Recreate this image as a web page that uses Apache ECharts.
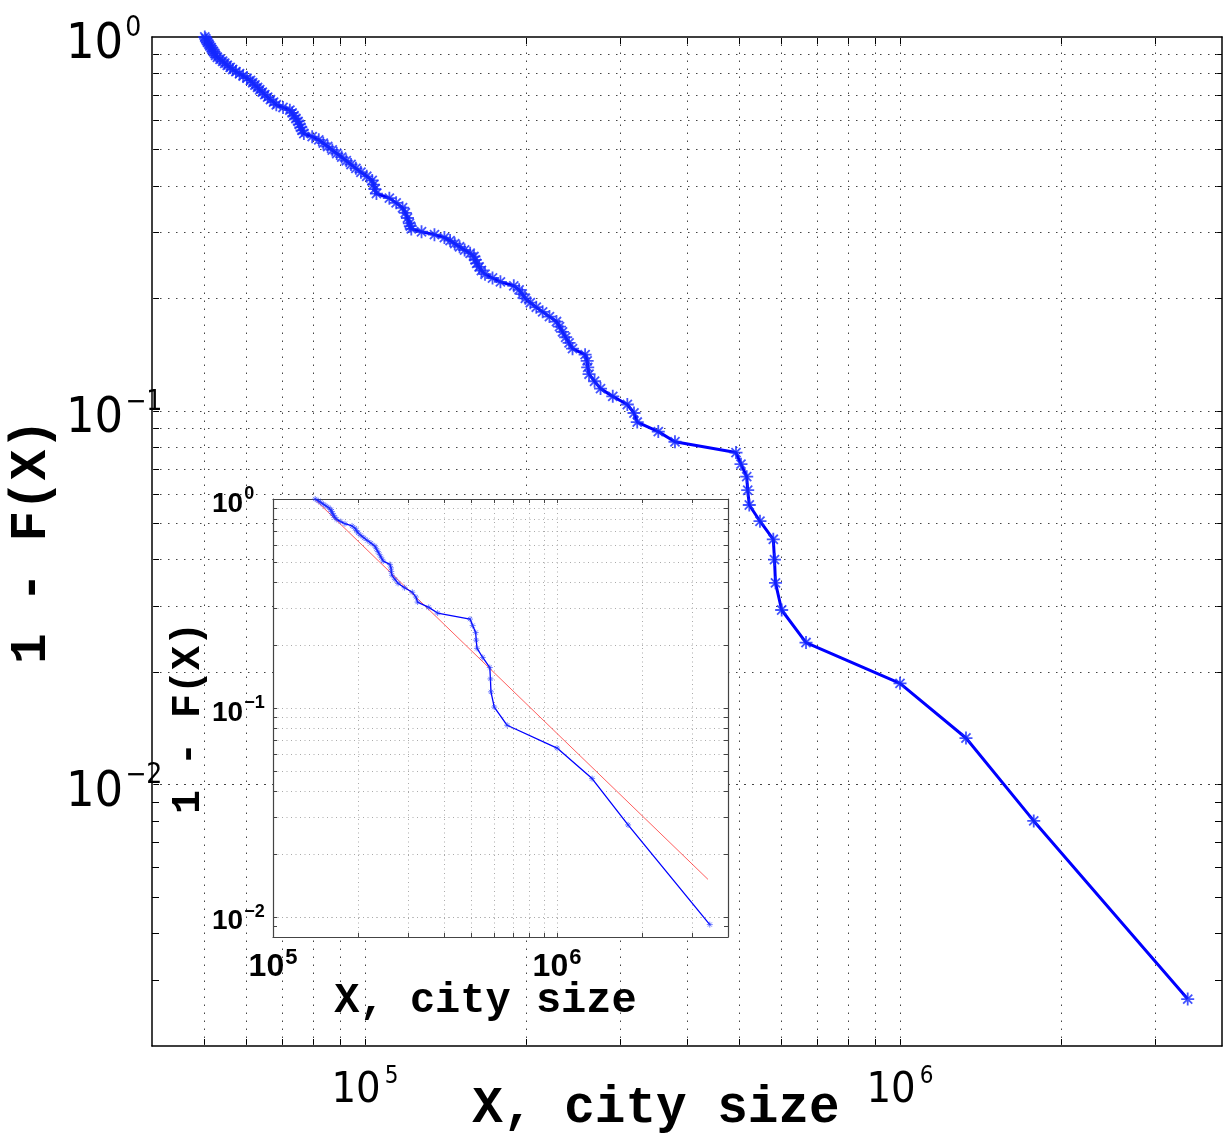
<!DOCTYPE html>
<html>
<head>
<meta charset="utf-8">
<script src="https://cdn.jsdelivr.net/npm/echarts@6.0.0/dist/echarts.min.js"></script>
<style>
html, body { margin: 0; padding: 0; background: #fff; }
#chart { width: 1231px; height: 1133px; }
</style>
</head>
<body>
<div id="chart"></div>
<script>
// city sizes, largest first (rank 1..60, then every 2nd rank up to 188)
const citySize = [
  3451000, 1779000, 1329000, 1000400, 667600, 601200, 585400, 582900, 579900, 547600,
  523000, 519400, 517200, 504600, 493900, 379800, 353500, 322900, 318400, 309400,
  290600, 275700, 268700, 262400, 260900, 260300, 258000, 244400, 240800, 237300,
  234100, 231100, 228100, 221300, 214900, 209100, 203800, 199500, 196800, 194200,
  189800, 179200, 173200, 167700, 165100, 163500, 161800, 160800, 159900, 157300,
  153600, 150300, 147200, 144300, 140800, 134900, 127600, 122100, 121600, 121100,
  120100, 119000, 117600, 114400, 111100, 105100, 104400, 103800, 103200, 100800,
  98300, 96200, 94200, 92300, 90500, 88600, 86900, 85200, 83600, 82000,
  79700, 76900, 76300, 75900, 75400, 75000, 74300, 73700, 73100, 72400,
  70300, 68300, 67500, 66600, 65800, 65000, 64300, 63600, 63000, 62300,
  61700, 61100, 60200, 59200, 58300, 57400, 56600, 56000, 55300, 54700,
  54200, 53600, 53000, 52600, 52400, 52100, 51800, 51600, 51300, 51100,
  50800, 50600, 50400, 50200
];

// 1 - F(X), main plot
const mainTail = [
  0.00267, 0.008, 0.01333, 0.01867, 0.024, 0.02933, 0.03467, 0.04, 0.04533, 0.05067,
  0.056, 0.06133, 0.06667, 0.072, 0.07733, 0.08267, 0.088, 0.09333, 0.09867, 0.104,
  0.10933, 0.11467, 0.12, 0.12533, 0.13067, 0.136, 0.14133, 0.14667, 0.152, 0.15733,
  0.16267, 0.168, 0.17333, 0.17867, 0.184, 0.18933, 0.19467, 0.2, 0.20533, 0.21067,
  0.216, 0.22133, 0.22667, 0.232, 0.23733, 0.24267, 0.248, 0.25333, 0.25867, 0.264,
  0.26933, 0.27467, 0.28, 0.28533, 0.29067, 0.296, 0.30133, 0.30667, 0.312, 0.31733,
  0.328, 0.33867, 0.34933, 0.36, 0.37067, 0.38133, 0.392, 0.40267, 0.41333, 0.424,
  0.43467, 0.44533, 0.456, 0.46667, 0.47733, 0.488, 0.49867, 0.50933, 0.52, 0.53067,
  0.54133, 0.552, 0.56267, 0.57333, 0.584, 0.59467, 0.60533, 0.616, 0.62667, 0.63733,
  0.648, 0.65867, 0.66933, 0.68, 0.69067, 0.70133, 0.712, 0.72267, 0.73333, 0.744,
  0.75467, 0.76533, 0.776, 0.78667, 0.79733, 0.808, 0.81867, 0.82933, 0.84, 0.85067,
  0.86133, 0.872, 0.88267, 0.89333, 0.904, 0.91467, 0.92533, 0.936, 0.94667, 0.95733,
  0.968, 0.97867, 0.98933, 1
];

// 1 - F(X), inset (55 largest cities)
const insetTail = [
  0.009174, 0.02752, 0.04587, 0.06422, 0.08257, 0.1009, 0.1193, 0.1376, 0.156, 0.1743,
  0.1927, 0.211, 0.2294, 0.2477, 0.2661, 0.2844, 0.3028, 0.3211, 0.3394, 0.3578,
  0.3761, 0.3945, 0.4128, 0.4312, 0.4495, 0.4679, 0.4862, 0.5046, 0.5229, 0.5413,
  0.5596, 0.578, 0.5963, 0.6147, 0.633, 0.6514, 0.6697, 0.6881, 0.7064, 0.7248,
  0.7431, 0.7615, 0.7798, 0.7982, 0.8165, 0.8349, 0.8532, 0.8716, 0.8899, 0.9083,
  0.9266, 0.945, 0.9633, 0.9817, 1
];

// power-law fit (red line in inset)
const fitX = [141000, 3400000];
const fitY = [0.99, 0.0151];

// ticks / grid
const mainXTicks = [5e4, 6e4, 7e4, 8e4, 9e4, 1e5, 2e5, 3e5, 4e5, 5e5, 6e5, 7e5, 8e5, 9e5, 1e6, 2e6, 3e6];
const mainYTicks = [0.003, 0.004, 0.005, 0.006, 0.007, 0.008, 0.009, 0.01, 0.02, 0.03, 0.04, 0.05, 0.06, 0.07, 0.08, 0.09,
  0.1, 0.2, 0.3, 0.4, 0.5, 0.6, 0.7, 0.8, 0.9];
const insetXTicks = [2e5, 3e5, 4e5, 5e5, 6e5, 7e5, 8e5, 9e5, 1e6, 2e6, 3e6];
const insetYTicks = [0.009, 0.01, 0.02, 0.03, 0.04, 0.05, 0.06, 0.07, 0.08, 0.09,
  0.1, 0.2, 0.3, 0.4, 0.5, 0.6, 0.7, 0.8, 0.9];
const xLabels = [1e5, 1e6];
const yLabels = [0.01, 0.1, 1];

const narrow = "'Liberation Sans Narrow', 'DejaVu Sans Condensed', sans-serif";
const sans = "'Liberation Sans', Arial, sans-serif";
const mono = "'Liberation Mono', 'DejaVu Sans Mono', monospace";
const star = 'path://M0 -10L0 10M-10 0L10 0M-7 -7L7 7M-7 7L7 -7';

const powLabel = (v) => {
  const e = Math.round(Math.log10(v));
  return '{b|10}{s|' + (e < 0 ? '\u2212' + (-e) : e) + '}';
};

const axis = (grid, pos, min, max, ticks, opts) => {
  const o = opts || {};
  const isX = pos === 'bottom' || pos === 'top';
  return {
    type: 'log', logBase: 10, gridIndex: grid, position: pos, min: min, max: max,
    z: o.z || 0,
    axisLine: { show: true, onZero: false, lineStyle: { color: o.lineColor || '#000', width: o.lineWidth || 1.5 } },
    axisTick: { show: true, inside: true, length: o.tickLen || 7, customValues: ticks,
      lineStyle: { color: o.lineColor || '#000', width: 1 } },
    axisLabel: o.label ? Object.assign({ show: true, formatter: powLabel }, o.label) : { show: false },
    splitLine: { show: false },
    name: o.name || '',
    nameLocation: 'middle',
    nameGap: o.nameGap || 0,
    nameMoveOverlap: false,
    nameRotate: isX ? 0 : 90,
    nameTextStyle: o.nameStyle || {}
  };
};

const gridLines = (xs, ys, color, dash, z) => ({
  silent: true, symbol: 'none', z: z, animation: false,
  label: { show: false },
  lineStyle: { color: color, type: dash, width: 1 },
  data: xs.map(v => ({ xAxis: v })).concat(ys.map(v => ({ yAxis: v })))
});

const myChart = echarts.init(document.getElementById('chart'));
const option = {
  animation: false,
  backgroundColor: '#fff',
  grid: [
    { left: 152, top: 37, width: 1070, height: 1009, show: false, outerBoundsMode: 'none', containLabel: false },
    { left: 273, top: 499, width: 455, height: 438, show: true, z: 10, outerBoundsMode: 'none', containLabel: false,
      backgroundColor: '#fff', borderWidth: 0 }
  ],
  xAxis: [
    axis(0, 'bottom', 4e4, 4e6, mainXTicks, {
      label: { customValues: xLabels, margin: 19,
        rich: {
          b: { fontFamily: narrow, fontSize: 43, lineHeight: 43, padding: [9.5, 0, 0, 0], color: '#000' },
          s: { fontFamily: narrow, fontSize: 24, lineHeight: 24, verticalAlign: 'top', padding: [0, 0, 0, 4], color: '#000' }
        } },
      name: 'X, city size', nameGap: 38,
      nameStyle: { fontFamily: mono, fontWeight: 'bold', fontSize: 51, color: '#000', padding: [0, 62, 0, 0] }
    }),
    axis(0, 'top', 4e4, 4e6, mainXTicks),
    axis(1, 'bottom', 1e5, 4e6, insetXTicks, {
      z: 12, lineColor: '#444', lineWidth: 1.2, tickLen: 4,
      label: { customValues: xLabels, margin: 9.5,
        rich: {
          b: { fontFamily: sans, fontWeight: 'bold', fontSize: 32, lineHeight: 32, padding: [9, 0, 0, 0], color: '#000' },
          s: { fontFamily: sans, fontWeight: 'bold', fontSize: 22, lineHeight: 22, verticalAlign: 'top', padding: [0, 0, 0, 1], color: '#000' }
        } },
      name: 'X, city size', nameGap: 43,
      nameStyle: { fontFamily: mono, fontWeight: 'bold', fontSize: 42, color: '#000', padding: [0, 30, 0, 0] }
    }),
    axis(1, 'top', 1e5, 4e6, insetXTicks, { z: 12, lineColor: '#444', lineWidth: 1.2, tickLen: 4 })
  ],
  yAxis: [
    axis(0, 'left', 0.002, 1, mainYTicks, {
      label: { customValues: yLabels, margin: 86, align: 'left',
        rich: {
          b: { fontFamily: narrow, fontSize: 50, lineHeight: 50, padding: [17, 0, 0, 0], color: '#000' },
          s: { fontFamily: narrow, fontSize: 28, lineHeight: 28, verticalAlign: 'top', padding: [2.5, 0, 0, 2], color: '#000' }
        } },
      name: '1 - F(X)', nameGap: 94,
      nameStyle: { fontFamily: mono, fontWeight: 'bold', fontSize: 51, color: '#000' }
    }),
    axis(0, 'right', 0.002, 1, mainYTicks),
    axis(1, 'left', 0.008, 1, insetYTicks, {
      z: 12, lineColor: '#444', lineWidth: 1.2, tickLen: 4,
      label: { customValues: yLabels, margin: 61, align: 'left',
        rich: {
          b: { fontFamily: sans, fontWeight: 'bold', fontSize: 28, lineHeight: 28, padding: [10, 0, 0, 0], color: '#000' },
          s: { fontFamily: sans, fontWeight: 'bold', fontSize: 18, lineHeight: 18, verticalAlign: 'top', padding: [0, 0, 0, 1], color: '#000' }
        } },
      name: '1 - F(X)', nameGap: 64,
      nameStyle: { fontFamily: mono, fontWeight: 'bold', fontSize: 40, color: '#000' }
    }),
    axis(1, 'right', 0.008, 1, insetYTicks, { z: 12, lineColor: '#444', lineWidth: 1.2, tickLen: 4 })
  ],
  series: [
    {
      type: 'line', xAxisIndex: 0, yAxisIndex: 0, data: [], z: 1, silent: true,
      markLine: gridLines(mainXTicks, mainYTicks, '#444', [1.5, 6.5], 1)
    },
    {
      name: 'main', type: 'line', xAxisIndex: 0, yAxisIndex: 0, z: 3,
      data: citySize.map((x, i) => [x, mainTail[i]]),
      symbol: star, symbolSize: 13,
      lineStyle: { color: '#0000ff', width: 3 },
      itemStyle: { color: 'rgba(20,40,255,0.8)', borderColor: 'rgba(20,40,255,0.8)', borderWidth: 1.8 }
    },
    {
      type: 'line', xAxisIndex: 2, yAxisIndex: 2, data: [], z: 11, silent: true,
      markLine: gridLines(insetXTicks, insetYTicks, '#aaa', [1, 3.5], 11)
    },
    {
      name: 'fit', type: 'line', xAxisIndex: 2, yAxisIndex: 2, z: 13,
      data: fitX.map((x, i) => [x, fitY[i]]),
      symbol: 'none',
      lineStyle: { color: 'rgba(255,40,40,0.75)', width: 1 }
    },
    {
      name: 'inset', type: 'line', xAxisIndex: 2, yAxisIndex: 2, z: 14,
      data: citySize.slice(0, insetTail.length).map((x, i) => [x, insetTail[i]]),
      symbol: star, symbolSize: 6,
      lineStyle: { color: '#0000ff', width: 1.3 },
      itemStyle: { color: 'rgba(30,50,255,0.6)', borderColor: 'rgba(30,50,255,0.6)', borderWidth: 1 }
    }
  ]
};
myChart.setOption(option);
</script>
</body>
</html>
